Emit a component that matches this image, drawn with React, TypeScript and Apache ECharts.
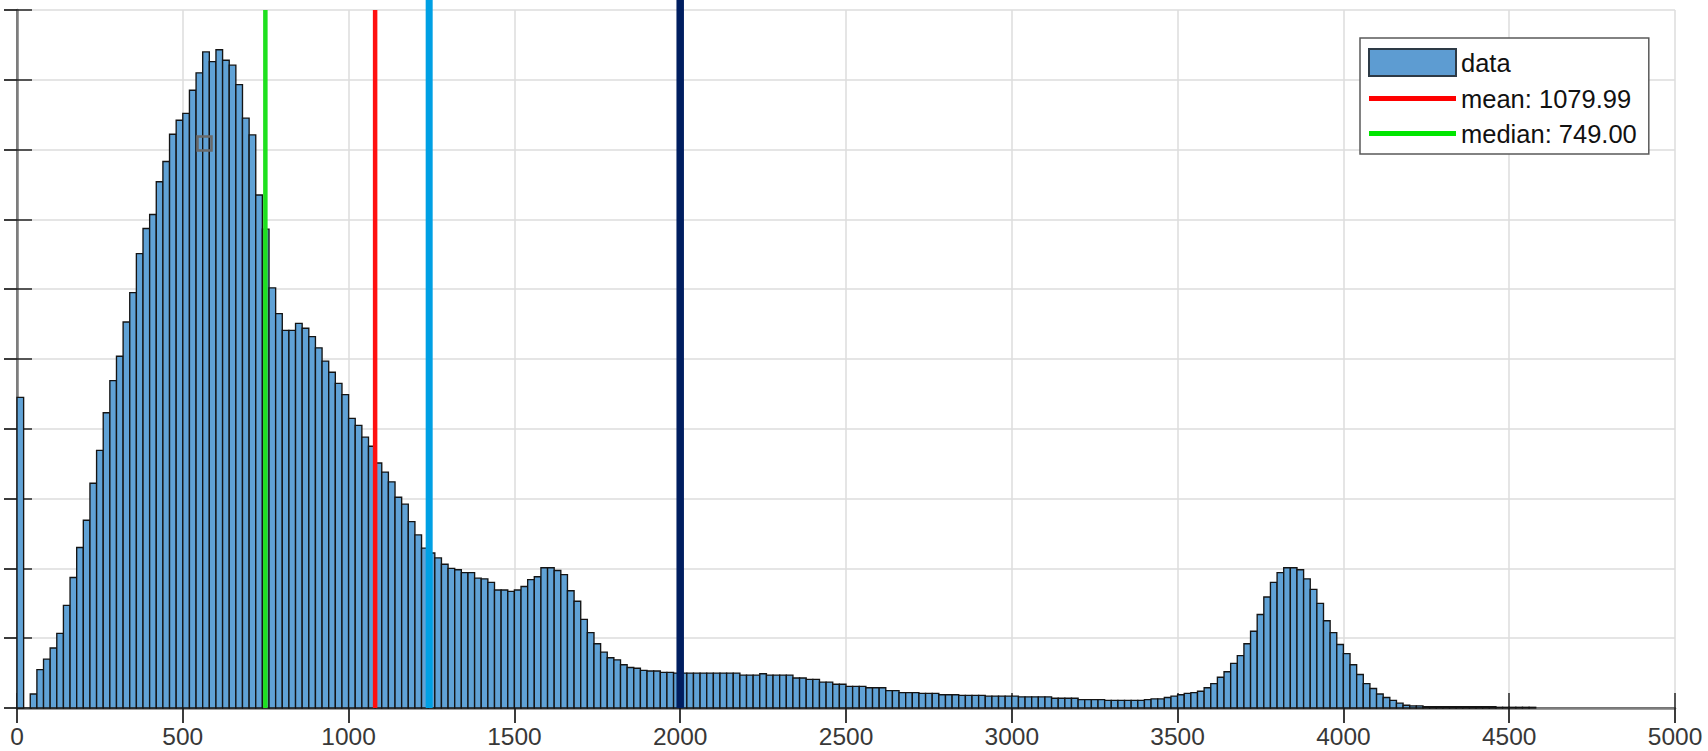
import React, { useEffect, useRef } from "react";
import * as echarts from "echarts";

// ---- data ----
const BIN_WIDTH = 20; // histogram bin width (x units)
const X_MIN = 0;
const X_MAX = 5000;
const X_INTERVAL = 500;
const Y_MIN = 0;
const Y_MAX = 10;
const Y_INTERVAL = 1;

// bin heights, bins start at 0 and are BIN_WIDTH wide
const BINS_0_37 = [
  4.45, 0, 0.2, 0.55, 0.7, 0.86, 1.07, 1.47, 1.87, 2.3,
  2.69, 3.22, 3.69, 4.23, 4.69, 5.04, 5.53, 5.95, 6.51, 6.87,
  7.07, 7.54, 7.83, 8.22, 8.42, 8.52, 8.85, 9.1, 9.4, 9.26,
  9.43, 9.28, 9.21, 8.93, 8.45, 8.21, 7.35, 6.86,
];
const BINS_38_71 = [
  6.02, 5.65, 5.41, 5.41, 5.51, 5.44, 5.32, 5.16, 4.97, 4.81,
  4.65, 4.49, 4.15, 4.05, 3.88, 3.75, 3.51, 3.38, 3.24, 3.02,
  2.92, 2.67, 2.48, 2.29, 2.22, 2.15, 2.06, 2.0, 1.98, 1.94,
  1.94, 1.86, 1.85, 1.8,
];
const BINS_72_99 = [
  1.69, 1.69, 1.67, 1.69, 1.74, 1.84, 1.88, 2.01, 2.01, 1.97,
  1.91, 1.68, 1.53, 1.27, 1.08, 0.92, 0.8, 0.72, 0.69, 0.62,
  0.58, 0.57, 0.54, 0.53, 0.53, 0.51, 0.51, 0.5,
];
const BINS_100_181 = [
  0.5, 0.5, 0.5, 0.5, 0.5, 0.5, 0.5, 0.5, 0.5, 0.47,
  0.47, 0.47, 0.49, 0.47, 0.47, 0.47, 0.47, 0.43, 0.43, 0.41,
  0.41, 0.37, 0.37, 0.34, 0.34, 0.31, 0.31, 0.31, 0.29, 0.29,
  0.29, 0.25, 0.25, 0.22, 0.22, 0.22, 0.21, 0.21, 0.21, 0.19,
  0.19, 0.19, 0.18, 0.18, 0.18, 0.18, 0.17, 0.17, 0.17, 0.17,
  0.17, 0.16, 0.16, 0.16, 0.16, 0.16, 0.14, 0.14, 0.14, 0.14,
  0.12, 0.12, 0.12, 0.12, 0.11, 0.11, 0.11, 0.11, 0.11, 0.11,
  0.12, 0.13, 0.13, 0.15, 0.17, 0.19, 0.21, 0.22, 0.24, 0.29,
  0.35, 0.44,
];
const BINS_182_249 = [
  0.52, 0.64, 0.75, 0.92, 1.1, 1.34, 1.59, 1.8, 1.94, 2.01,
  2.01, 1.98, 1.85, 1.7, 1.5, 1.25, 1.08, 0.91, 0.78, 0.62,
  0.48, 0.35, 0.28, 0.2, 0.15, 0.11, 0.07, 0.04, 0.03, 0.03,
  0.02, 0.02, 0.02, 0.02, 0.02, 0.02, 0.02, 0.02, 0.02, 0.02,
  0.02, 0.01, 0.01, 0.01, 0.01, 0.01, 0.01, 0, 0, 0,
  0, 0, 0, 0, 0, 0, 0, 0, 0, 0,
  0, 0, 0, 0, 0, 0, 0, 0,
];
const BIN_HEIGHTS = [
  ...BINS_0_37,
  ...BINS_38_71,
  ...BINS_72_99,
  ...BINS_100_181,
  ...BINS_182_249,
];

const MEAN = 1079.99;
const MEDIAN = 749.0;
const MARKER_LIGHT = 1243;
const MARKER_DARK = 2000;

const MEAN_LABEL = `mean: ${MEAN.toFixed(2)}`;
const MEDIAN_LABEL = `median: ${MEDIAN.toFixed(2)}`;

// ---- styles ----
const FONT = "'Liberation Sans', Arial, Helvetica, sans-serif";
const BAR_FILL = "#60a2d6";
const BAR_EDGE = "#141414";
const FRAME = "#7d7d7d";
const GRID = "#dcdcdc";
const TICK = "#262626";
const LINE_ICON = "path://M0,0M87,27M0,11L87,11L87,16L0,16Z";

export default function App() {
  const ref = useRef<HTMLDivElement>(null);

  useEffect(() => {
    document.body.style.margin = "0";
    if (!ref.current) return;
    const chart = echarts.init(ref.current, undefined, { renderer: "svg" });

    const histData = BIN_HEIGHTS.map((v, i) => [i * BIN_WIDTH, (i + 1) * BIN_WIDTH, v]);

    const vLine = (
      name: string,
      x: number,
      color: string,
      width: number,
      toPageTop: boolean
    ) => ({
      name,
      type: "custom",
      coordinateSystem: "cartesian2d",
      clip: false,
      silent: true,
      z: 5,
      data: [[x, Y_MIN]],
      encode: { x: 0, y: 1 },
      renderItem: (_p: any, api: any) => {
        const xv = api.value(0);
        const b = api.coord([xv, Y_MIN]);
        const t = api.coord([xv, Y_MAX]);
        return {
          type: "line",
          shape: { x1: b[0], y1: b[1], x2: t[0], y2: toPageTop ? 0 : t[1] },
          style: { stroke: color, lineWidth: width },
        };
      },
    });

    const axisCommonX = {
      type: "value",
      min: X_MIN,
      max: X_MAX,
      interval: X_INTERVAL,
    };
    const axisCommonY = {
      type: "value",
      min: Y_MIN,
      max: Y_MAX,
      interval: Y_INTERVAL,
    };

    chart.setOption({
      animation: false,
      backgroundColor: "#ffffff",
      grid: {
        left: 17,
        right: 33,
        top: 10,
        bottom: 43,
        containLabel: false,
        outerBoundsMode: "none",
      },
      xAxis: [
        {
          ...axisCommonX,
          position: "bottom",
          axisLine: { show: true, lineStyle: { color: "#5e5e5e", width: 2 } },
          axisTick: { show: true, inside: true, length: 15, lineStyle: { color: TICK, width: 1.5 } },
          axisLabel: {
            show: true,
            margin: 16,
            fontFamily: FONT,
            fontSize: 24.5,
            color: "#383838",
            formatter: (v: number) => String(v),
          },
          splitLine: { show: true, lineStyle: { color: GRID, width: 1.5 } },
        },
        {
          ...axisCommonX,
          position: "top",
          axisLine: { show: true, lineStyle: { color: FRAME, width: 2.5 } },
          axisTick: { show: true, inside: true, length: 15, lineStyle: { color: TICK, width: 1.8 } },
          axisLabel: { show: false },
          splitLine: { show: false },
        },
      ],
      yAxis: [
        {
          ...axisCommonY,
          position: "left",
          axisLine: { show: true, lineStyle: { color: FRAME, width: 2 } },
          axisTick: { show: true, inside: true, length: 15, lineStyle: { color: TICK, width: 1.5 } },
          axisLabel: { show: false },
          splitLine: { show: true, lineStyle: { color: GRID, width: 1.5 } },
        },
        {
          ...axisCommonY,
          position: "right",
          axisLine: { show: true, lineStyle: { color: FRAME, width: 2.5 } },
          axisTick: { show: true, inside: true, length: 13, lineStyle: { color: TICK, width: 1.8 } },
          axisLabel: { show: false },
          splitLine: { show: false },
        },
      ],
      legend: {
        orient: "vertical",
        left: 1360,
        top: 38,
        padding: [10, 12, 7, 8],
        itemGap: 8,
        itemWidth: 87,
        itemHeight: 27,
        backgroundColor: "#ffffff",
        borderColor: "#5a5a5a",
        borderWidth: 1.5,
        selectedMode: false,
        textStyle: { fontFamily: FONT, fontSize: 25.5, color: "#111111" },
        data: [
          {
            name: "data",
            icon: "rect",
            itemStyle: { color: "#5d9cd2", borderColor: "#2d3a46", borderWidth: 2 },
          },
          { name: MEAN_LABEL, icon: LINE_ICON, itemStyle: { color: "#ff0000", borderWidth: 0 } },
          { name: MEDIAN_LABEL, icon: LINE_ICON, itemStyle: { color: "#00e600", borderWidth: 0 } },
        ],
      },
      graphic: [
        {
          type: "rect",
          left: 195,
          top: 134,
          shape: { width: 14, height: 14 },
          style: { fill: "none", stroke: "#6a6a6a", lineWidth: 2.5 },
          z: 100,
        },
      ],
      series: [
        {
          name: "data",
          type: "custom",
          coordinateSystem: "cartesian2d",
          xAxisIndex: 0,
          yAxisIndex: 0,
          z: 2,
          itemStyle: { color: BAR_FILL },
          data: histData,
          encode: { x: [0, 1], y: 2 },
          renderItem: (_p: any, api: any) => {
            const x0 = api.value(0);
            const x1 = api.value(1);
            const v = api.value(2);
            if (!(v > 0)) return null;
            const p0 = api.coord([x0, Y_MIN]);
            const p1 = api.coord([x1, v]);
            return {
              type: "rect",
              shape: { x: p0[0], y: p1[1], width: p1[0] - p0[0], height: p0[1] - p1[1] },
              style: { fill: BAR_FILL, stroke: BAR_EDGE, lineWidth: 1.35 },
            };
          },
        },
        vLine(MEDIAN_LABEL, MEDIAN, "#1fe01f", 4.5, false),
        vLine(MEAN_LABEL, MEAN, "#ff1010", 4.5, false),
        vLine("marker 1243", MARKER_LIGHT, "#00a0e4", 7, true),
        vLine("marker 2000", MARKER_DARK, "#001e60", 7.5, true),
      ],
    });

    return () => chart.dispose();
  }, []);

  return <div ref={ref} style={{ width: 1708, height: 751 }} />;
}
